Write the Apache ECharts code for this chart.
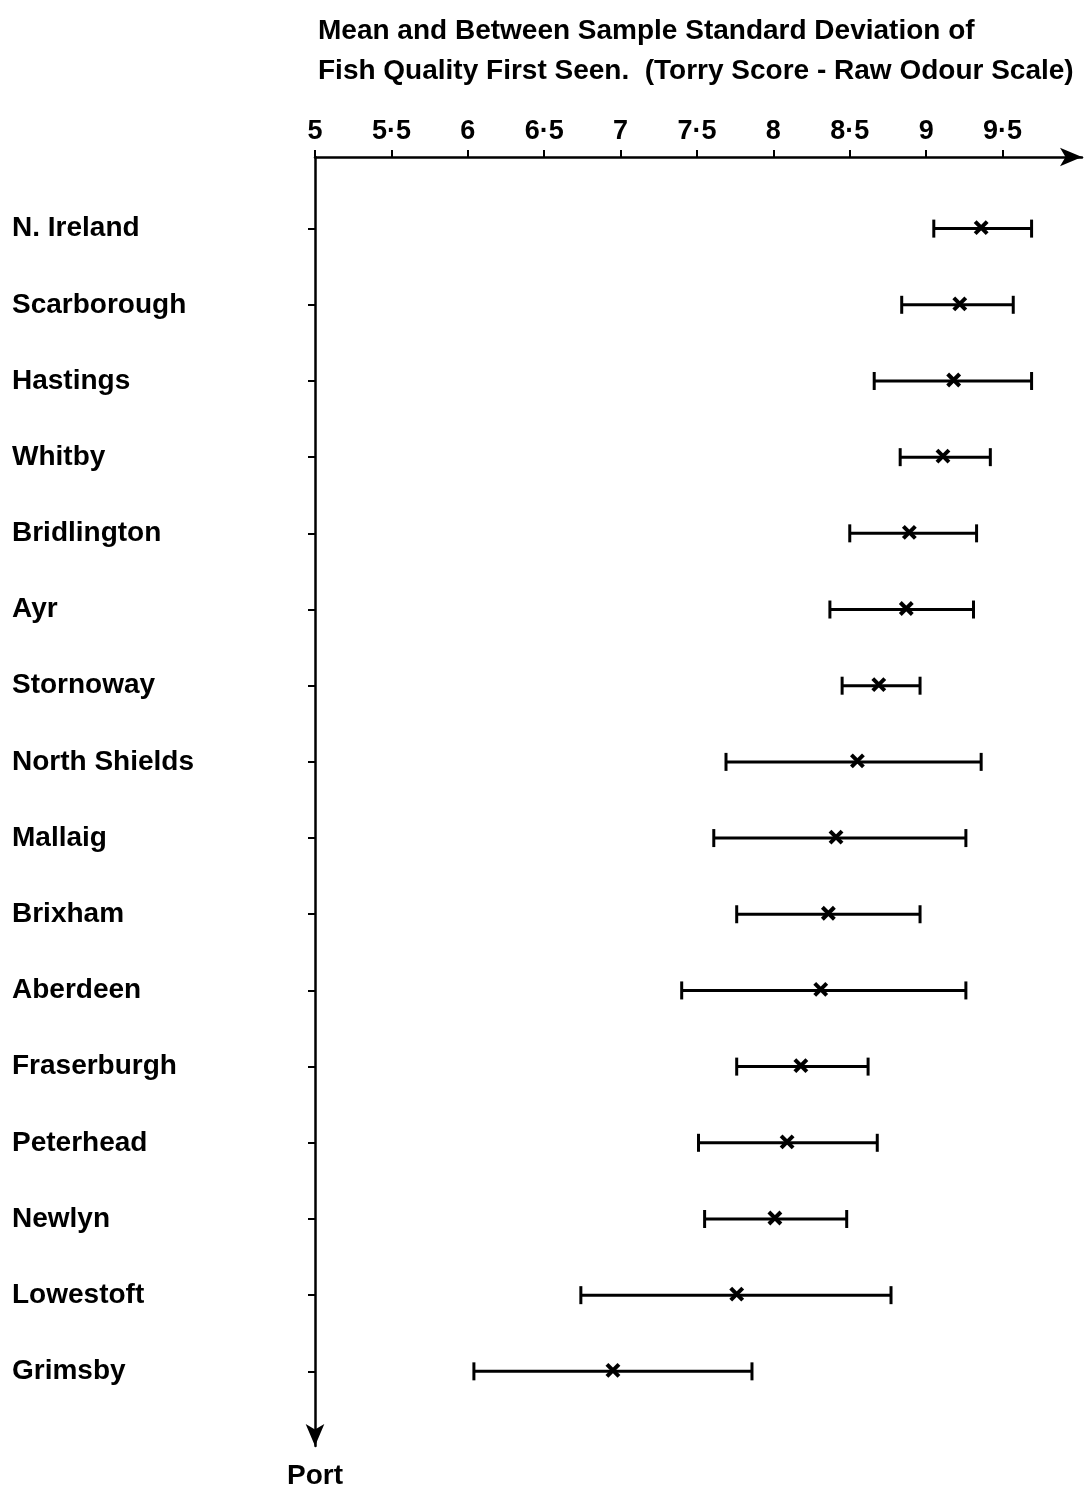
<!DOCTYPE html>
<html><head><meta charset="utf-8">
<script src="https://cdn.jsdelivr.net/npm/echarts@6/dist/echarts.min.js"></script>
<style>html,body{margin:0;padding:0;background:#fff}#c{width:1084px;height:1490px}</style>
</head><body><div id="c"></div>
<script>
const ports = ['N. Ireland','Scarborough','Hastings','Whitby','Bridlington','Ayr','Stornoway','North Shields','Mallaig','Brixham','Aberdeen','Fraserburgh','Peterhead','Newlyn','Lowestoft','Grimsby'];
const lowValues  = [9.05, 8.84, 8.66, 8.83, 8.50, 8.37, 8.45, 7.69, 7.61, 7.76, 7.40, 7.76, 7.51, 7.55, 6.74, 6.04];
const meanValues = [9.36, 9.22, 9.18, 9.11, 8.89, 8.87, 8.69, 8.55, 8.41, 8.36, 8.31, 8.18, 8.09, 8.01, 7.76, 6.95];
const highValues = [9.69, 9.57, 9.69, 9.42, 9.33, 9.31, 8.96, 9.36, 9.26, 8.96, 9.26, 8.62, 8.68, 8.48, 8.77, 7.86];
const tickValues = [5, 5.5, 6, 6.5, 7, 7.5, 8, 8.5, 9, 9.5];
const tickLabels = ['5', '5·5', '6', '6·5', '7', '7·5', '8', '8·5', '9', '9·5'];
const titleLines = ['Mean and Between Sample Standard Deviation of', 'Fish Quality First Seen.  (Torry Score - Raw Odour Scale)'];
const portIndex = ports.map((p, i) => i);

const FONT = 'Liberation Sans';
const chart = echarts.init(document.getElementById('c'), null, {renderer: 'canvas'});
const seriesData = ports.map((p, i) => [lowValues[i], meanValues[i], highValues[i], i]);

chart.setOption({
  animation: false,
  backgroundColor: '#fff',
  title: {
    text: titleLines.join('\n'),
    left: 313, top: 6,
    textStyle: {fontFamily: FONT, fontSize: 28, fontWeight: 'bold', color: '#000', lineHeight: 40}
  },
  grid: {left: 315, top: 157, right: 2, bottom: 40, containLabel: false},
  xAxis: {
    type: 'value', position: 'top', min: 5, max: 10.02,
    axisLine: {show: true, onZero: false, symbol: ['none', 'arrow'], symbolSize: [14, 22], lineStyle: {color: '#000', width: 2.5}},
    axisTick: {show: true, inside: false, length: 7, lineStyle: {color: '#000', width: 2}, customValues: tickValues},
    axisLabel: {
      customValues: tickValues, margin: 12, color: '#000', fontFamily: FONT, fontSize: 27, fontWeight: 'bold',
      formatter: v => { const k = tickValues.indexOf(Math.round(v * 10) / 10); return k >= 0 ? tickLabels[k] : ''; }
    },
    splitLine: {show: false}
  },
  yAxis: {
    type: 'value', inverse: true, min: -0.94, max: 15.98,
    name: 'Port', nameLocation: 'end', nameGap: 16,
    nameTextStyle: {fontFamily: FONT, fontSize: 28, fontWeight: 'bold', color: '#000'},
    axisLine: {show: true, onZero: false, symbol: ['arrow', 'none'], symbolSize: [14, 22], lineStyle: {color: '#000', width: 2.5}},
    axisTick: {show: true, inside: false, length: 7, lineStyle: {color: '#000', width: 2}, customValues: portIndex},
    axisLabel: {
      customValues: portIndex, margin: 303, align: 'left', color: '#000', fontFamily: FONT, fontSize: 28, fontWeight: 'bold',
      formatter: v => ports[Math.round(v)] || ''
    },
    splitLine: {show: false}
  },
  series: [{
    type: 'custom',
    data: seriesData,
    encode: {x: [0, 1, 2], y: 3},
    renderItem: function (params, api) {
      const y = api.value(3);
      const pL = api.coord([api.value(0), y]);
      const pM = api.coord([api.value(1), y]);
      const pH = api.coord([api.value(2), y]);
      const cap = 9, h = 6;
      const st = {stroke: '#000', lineWidth: 3};
      const sx = {stroke: '#000', lineWidth: 4};
      return {type: 'group', children: [
        {type: 'line', shape: {x1: pL[0], y1: pL[1], x2: pH[0], y2: pH[1]}, style: st},
        {type: 'line', shape: {x1: pL[0], y1: pL[1] - cap, x2: pL[0], y2: pL[1] + cap}, style: st},
        {type: 'line', shape: {x1: pH[0], y1: pH[1] - cap, x2: pH[0], y2: pH[1] + cap}, style: st},
        {type: 'line', shape: {x1: pM[0] - h, y1: pM[1] - h - 1, x2: pM[0] + h, y2: pM[1] + h - 1}, style: sx},
        {type: 'line', shape: {x1: pM[0] + h, y1: pM[1] - h - 1, x2: pM[0] - h, y2: pM[1] + h - 1}, style: sx}
      ]};
    }
  }]
});
</script>
</body></html>
